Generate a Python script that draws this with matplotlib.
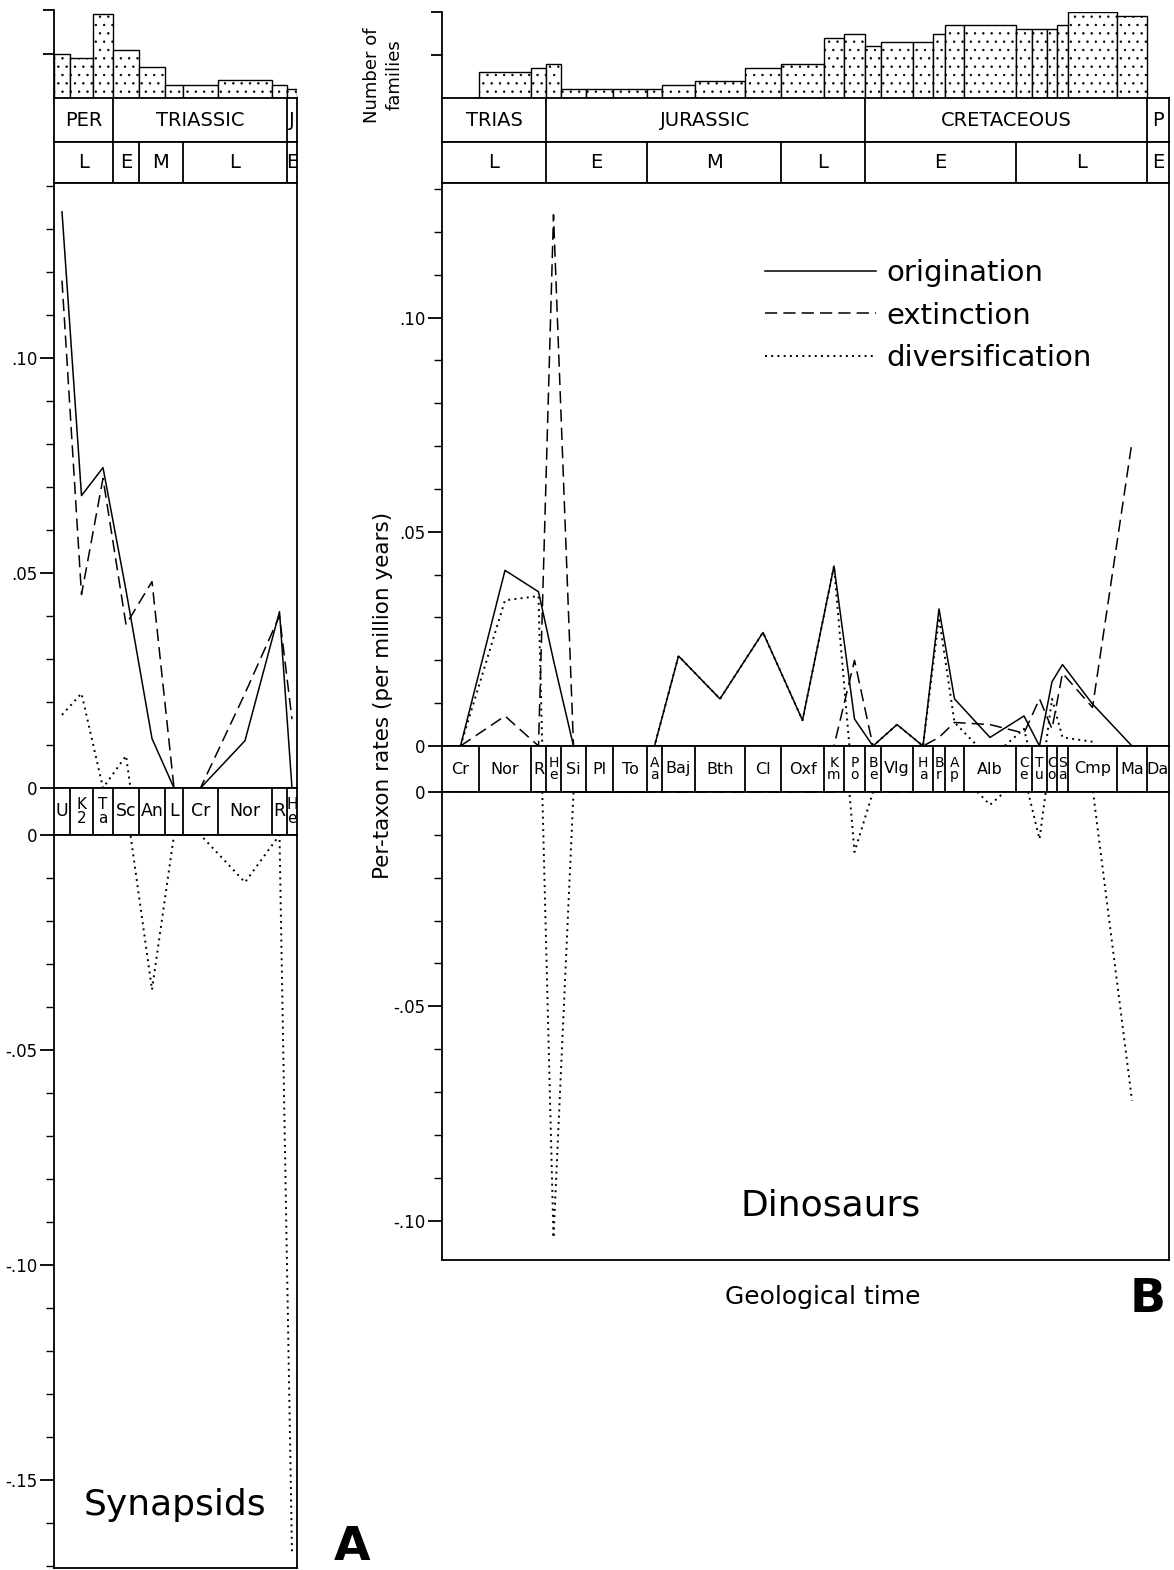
import numpy as np
import matplotlib
matplotlib.use("Agg")
from matplotlib import pyplot as plt
from matplotlib.lines import Line2D

plt.rcParams['font.family'] = ['DejaVu Sans']
plt.rcParams['hatch.linewidth'] = 0.5

# ---- synapsids (panel A) ----
syn_stages = ["U", "K\n2", "T\na", "Sc", "An", "L", "Cr", "Nor", "R", "H\ne"]
syn_widths = [16, 23, 20, 26, 26, 18, 35, 54, 15, 10]
syn_families = [10, 9, 19, 11, 7, 3, 3, 4, 3, 2]
syn_orig = [0.134, 0.068, 0.0745, 0.046, 0.0115, 0, 0, 0.011, 0.041, 0]
syn_ext = [0.118, 0.045, 0.072, 0.038, 0.048, 0, 0, 0.022, 0.040, 0.016]
syn_div = [0.017, 0.022, 0.0, 0.0075, -0.036, 0, 0, -0.011, 0.0, -0.167]
syn_periods = ["PER", "TRIASSIC", "J"]
syn_period_n = [3, 6, 1]
syn_epochs = ["L", "E", "M", "L", "E"]
syn_epoch_n = [3, 1, 2, 3, 1]

# ---- dinosaurs (panel B) ----
dino_stages = ["Cr", "Nor", "R", "H\ne", "Si", "Pl", "To", "A\na", "Baj", "Bth",
               "Cl", "Oxf", "K\nm", "P\no", "B\ne", "Vlg", "H\na", "B\nr", "A\np",
               "Alb", "C\ne", "T\nu", "C\no", "S\na", "Cmp", "Ma", "Da"]
dino_widths = [37, 52, 15, 15, 25, 27, 34, 15, 33, 50, 36, 43, 20, 21, 16, 32,
               20, 12, 19, 52, 16, 15, 10, 11, 49, 30, 22]
dino_families = [0, 6, 7, 8, 2, 2, 2, 2, 3, 4, 7, 8, 14, 15, 12, 13, 13, 15,
                 17, 17, 16, 16, 16, 17, 20, 19, 0]
nan = np.nan
dino_orig = [0, 0.041, 0.036, 0.020, 0, 0, 0, 0, 0.021, 0.011, 0.0265, 0.006,
             0.042, 0.0063, 0, 0.005, 0, 0.032, 0.011, 0.002, 0.007, 0, 0.015,
             0.019, 0.0098, 0, nan]
dino_ext = [0, 0.007, 0, 0.124, 0, 0, 0, 0, 0, 0, 0, 0, 0, 0.020, 0, 0, 0,
            0.002, 0.0055, 0.005, 0.003, 0.011, 0.004, 0.017, 0.009, 0.071, nan]
dino_div = [0, 0.034, 0.035, -0.104, 0, 0, 0, 0, 0.021, 0.011, 0.0265, 0.006,
            0.042, -0.014, 0, 0.005, 0, 0.030, 0.0055, -0.003, 0.004, -0.011,
            0.011, 0.002, 0.001, -0.072, nan]
dino_periods = ["TRIAS", "JURASSIC", "CRETACEOUS", "P"]
dino_period_n = [3, 11, 12, 1]
dino_epochs = ["L", "E", "M", "L", "E", "L", "E"]
dino_epoch_n = [3, 4, 4, 3, 6, 6, 1]

W, H = 1174, 1570
fig = plt.figure(figsize=(W / 100, H / 100), dpi=100)
LW = 1.3


def add_px(x0, y0, x1, y1):
    return fig.add_axes([x0 / W, 1 - y1 / H, (x1 - x0) / W, (y1 - y0) / H])


def strip(ax, widths, names, counts, fs):
    edges = np.concatenate([[0], np.cumsum(widths)])
    idx = np.concatenate([[0], np.cumsum(counts)]).astype(int)
    ax.set_xlim(0, edges[-1])
    ax.set_ylim(0, 1)
    ax.set_xticks([])
    ax.set_yticks([])
    for s in ax.spines.values():
        s.set_linewidth(LW)
    for i, name in enumerate(names):
        a, b = edges[idx[i]], edges[idx[i + 1]]
        if i > 0:
            ax.axvline(a, color='k', lw=LW)
        if "\n" in name:
            ax.text((a + b) / 2, 0.5, name, ha='center', va='center',
                    fontsize=fs - 1.5, linespacing=0.85, clip_on=True)
        else:
            ax.text((a + b) / 2, 0.5, name, ha='center', va='center',
                    fontsize=fs, clip_on=True)


def histo(ax, widths, fams):
    edges = np.concatenate([[0], np.cumsum(widths)])
    ax.bar(edges[:-1], fams, width=widths, align='edge', facecolor='white',
           edgecolor='k', linewidth=1.0, hatch='..')
    ax.set_xlim(0, edges[-1])
    ax.set_ylim(0, 20)
    ax.set_xticks([])
    ax.set_yticks([10, 20])
    ax.set_yticklabels([])
    ax.tick_params(axis='y', direction='out', length=8, width=LW)
    for k in ['top', 'right', 'bottom']:
        ax.spines[k].set_visible(False)
    ax.spines['left'].set_linewidth(LW)
    ax.patch.set_alpha(0)


def rates(ax, widths, orig, ext, div, ylim, major, labels):
    edges = np.concatenate([[0], np.cumsum(widths)])
    mid = edges[:-1] + np.array(widths) / 2
    ax.plot(mid, orig, color='k', lw=1.1)
    ax.plot(mid, ext, color='k', lw=1.1, ls=(0, (8, 4)))
    ax.plot(mid, div, color='k', lw=1.4, ls=(0, (1, 2.2)))
    ax.set_xlim(0, edges[-1])
    ax.set_ylim(*ylim)
    ax.set_xticks([])
    ax.set_yticks(major)
    ax.set_yticklabels(labels)
    lo = np.ceil(ylim[0] * 100) / 100
    ax.set_yticks(np.arange(lo, ylim[1], 0.01), minor=True)
    ax.tick_params(axis='y', which='major', direction='out', length=10,
                   width=LW, labelsize=12, pad=2)
    ax.tick_params(axis='y', which='minor', direction='out', length=6, width=1)
    for s in ax.spines.values():
        s.set_linewidth(LW)


# panel A
xa0, xa1 = 54, 297
histo(add_px(xa0, 10, xa1, 98), syn_widths, syn_families)
strip(add_px(xa0, 98, xa1, 142), syn_widths, syn_periods, syn_period_n, 14)
strip(add_px(xa0, 142, xa1, 183), syn_widths, syn_epochs, syn_epoch_n, 14)
rates(add_px(xa0, 183, xa1, 788), syn_widths, syn_orig, syn_ext, syn_div,
      (0, 0.1407), [0, 0.05, 0.10], ["0", ".05", ".10"])
strip(add_px(xa0, 788, xa1, 835), syn_widths, syn_stages, [1] * len(syn_stages), 12.5)
rates(add_px(xa0, 835, xa1, 1568), syn_widths, syn_orig, syn_ext, syn_div,
      (-0.1705, 0), [0, -0.05, -0.10, -0.15], ["0", "-.05", "-.10", "-.15"])

# panel B
xb0, xb1 = 442, 1169
histo(add_px(xb0, 12, xb1, 98), dino_widths, dino_families)
strip(add_px(xb0, 98, xb1, 142), dino_widths, dino_periods, dino_period_n, 14)
strip(add_px(xb0, 142, xb1, 183), dino_widths, dino_epochs, dino_epoch_n, 14)
ax_up = add_px(xb0, 183, xb1, 746)
rates(ax_up, dino_widths, dino_orig, dino_ext, dino_div,
      (0, 0.1314), [0, 0.05, 0.10], ["0", ".05", ".10"])
strip(add_px(xb0, 746, xb1, 792), dino_widths, dino_stages, [1] * len(dino_stages), 11.5)
rates(add_px(xb0, 792, xb1, 1260), dino_widths, dino_orig, dino_ext, dino_div,
      (-0.1092, 0), [0, -0.05, -0.10], ["0", "-.05", "-.10"])

handles = [Line2D([], [], color='k', lw=1.1),
           Line2D([], [], color='k', lw=1.1, ls=(0, (8, 4))),
           Line2D([], [], color='k', lw=1.4, ls=(0, (1, 2.2)))]
ax_up.legend(handles, ["origination", "extinction", "diversification"],
             loc='upper left', bbox_to_anchor=(765 / W, 1 - 259 / H),
             bbox_transform=fig.transFigure, frameon=False, fontsize=21,
             handlelength=3.8, handletextpad=0.35, labelspacing=0.5,
             borderpad=0, borderaxespad=0)

fig.text(383 / W, 1 - 695 / H, "Per-taxon rates (per million years)",
         rotation=90, ha='center', va='center', fontsize=15.5)
fig.text(372 / W, 1 - 75 / H, "Number of", rotation=90, ha='center',
         va='center', fontsize=13)
fig.text(395 / W, 1 - 75 / H, "families", rotation=90, ha='center',
         va='center', fontsize=13)
fig.text(823 / W, 1 - 1297 / H, "Geological time", ha='center', va='center',
         fontsize=18)
fig.text(831 / W, 1 - 1205 / H, "Dinosaurs", ha='center', va='center',
         fontsize=26)
fig.text(175 / W, 1 - 1505 / H, "Synapsids", ha='center', va='center',
         fontsize=26)
fig.text(1148 / W, 1 - 1300 / H, "B", ha='center', va='center', fontsize=34,
         weight='bold')
fig.text(352 / W, 1 - 1547 / H, "A", ha='center', va='center', fontsize=34,
         weight='bold')

fig.savefig("out.png", dpi=100)
